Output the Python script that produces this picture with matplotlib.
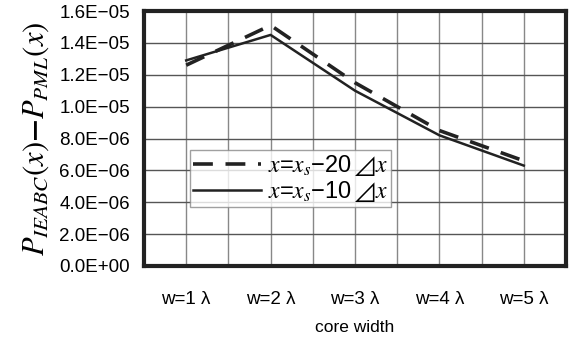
import matplotlib
matplotlib.use("Agg")
import matplotlib.pyplot as plt
from matplotlib.ticker import FuncFormatter, MultipleLocator

categories = ["w=1 λ", "w=2 λ", "w=3 λ", "w=4 λ", "w=5 λ"]
dashed_vals = [1.26e-05, 1.51e-05, 1.15e-05, 8.5e-06, 6.6e-06]
solid_vals = [1.29e-05, 1.45e-05, 1.10e-05, 8.2e-06, 6.3e-06]
dashed_label = r"$x$=$x_s$−20$\,⊿x$"
solid_label = r"$x$=$x_s$−10$\,⊿x$"

plt.rcParams['mathtext.fontset'] = 'stix'
plt.rcParams['font.family'] = ['Liberation Sans', 'DejaVu Sans']

fig = plt.figure(figsize=(5.74, 3.43), dpi=100)
ax = fig.add_axes([144/574, 1-266/343, 422/574, 255/343])

xs = list(range(len(categories)))
ax.plot(xs, dashed_vals, color='#222222', lw=2.6, dashes=(5.5, 3.5), label=dashed_label)
ax.plot(xs, solid_vals, color='#222222', lw=1.8, label=solid_label)

ax.set_xlim(-0.5, len(categories) - 0.5)
ax.set_ylim(0, 1.6e-05)
ax.yaxis.set_major_locator(MultipleLocator(2e-06))
ax.yaxis.set_major_formatter(FuncFormatter(lambda v, p: ("%.1E" % v).replace("-", "−")))
ax.set_xticks(xs)
ax.set_xticklabels(categories)
ax.set_xticks([x + 0.5 for x in xs[:-1]], minor=True)
ax.tick_params(axis='both', which='both', length=0, labelsize=13.5)
ax.tick_params(axis='y', pad=10)
ax.tick_params(axis='x', pad=18)

ax.grid(True, which='major', axis='y', color='#555555', lw=1.0)
ax.grid(True, which='both', axis='x', color='#888888', lw=1.0)
ax.set_axisbelow(True)
for s in ax.spines.values():
    s.set_linewidth(3)
    s.set_color('#222222')

ax.set_xlabel("core width", fontsize=12.5, labelpad=9)
ax.set_ylabel(r"$P_{IEABC}(x)\mathbf{-}P_{PML}(x)$", fontsize=22, labelpad=6)

leg = ax.legend(loc='lower left', bbox_to_anchor=((190-144)/422, (266-207)/255),
                fontsize=17, frameon=True, fancybox=False, handlelength=2.9,
                borderpad=0.12, labelspacing=0.05, handletextpad=0.3, borderaxespad=0)
leg.get_frame().set_edgecolor('#888888')
leg.get_frame().set_linewidth(1.0)

fig.savefig("out.png", dpi=100)
